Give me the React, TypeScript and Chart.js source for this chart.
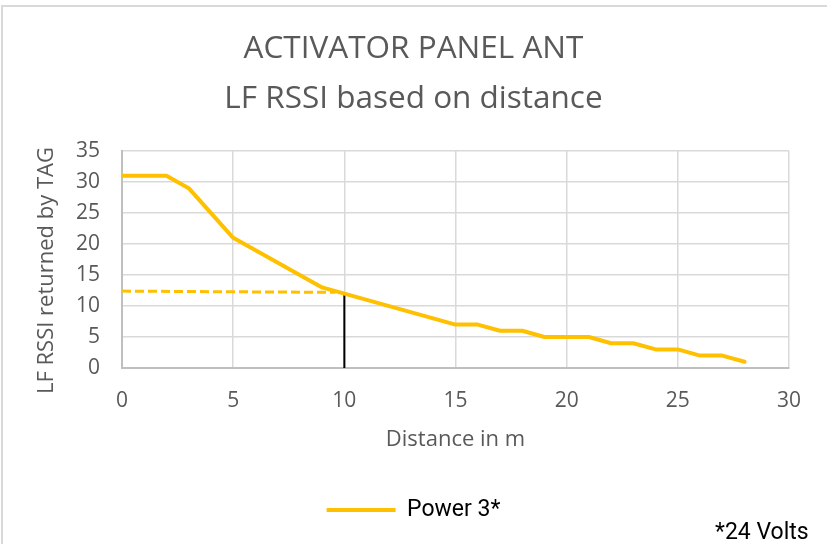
import React, { useEffect, useRef } from 'react';
import { Chart, registerables } from 'chart.js';

Chart.register(...registerables);

// ---- data ----
const distance = [0, 2, 3, 5, 9, 10, 15, 16, 17, 18, 19, 20, 21, 22, 23, 24, 25, 26, 27, 28];
const rssi = [31, 31, 29, 21, 13, 12, 7, 7, 6, 6, 5, 5, 5, 4, 4, 3, 3, 2, 2, 1];
const dashGuideX = [0, 9.6];
const dashGuideY = [12.4, 12.2];
const vertGuideX = [10, 10];
const vertGuideY = [0, 12.2];
const titleLines = ['ACTIVATOR PANEL ANT', 'LF RSSI based on distance'];
const seriesName = 'Power 3*';
const xTitle = 'Distance in m';
const yTitle = 'LF RSSI returned by TAG';
const footnote = '*24 Volts';

const toPts = (xs: number[], ys: number[]) => xs.map((x, i) => ({ x, y: ys[i] }));

const GRAY = '#595959';

// Draws the rotated y-axis title, slightly below the axis centre like the reference
const yTitlePlugin = {
  id: 'yTitleText',
  afterDraw(chart: any) {
    const { ctx, chartArea } = chart;
    ctx.save();
    ctx.translate(47, (chartArea.top + chartArea.bottom) / 2 + 11);
    ctx.rotate(-Math.PI / 2);
    ctx.font = '22px "Open Sans"';
    ctx.fillStyle = GRAY;
    ctx.textAlign = 'center';
    ctx.textBaseline = 'middle';
    ctx.fillText(yTitle, 0, 0);
    ctx.restore();
  },
};

export default function App() {
  const ref = useRef<HTMLCanvasElement>(null);

  useEffect(() => {
    document.body.style.margin = '0';
    const chart = new Chart(ref.current as HTMLCanvasElement, {
      type: 'line',
      data: {
        datasets: [
          {
            label: seriesName,
            data: toPts(distance, rssi),
            borderColor: '#FFC000',
            backgroundColor: '#FFC000',
            borderWidth: 4,
            pointRadius: 0,
            tension: 0,
            borderJoinStyle: 'round',
            borderCapStyle: 'round',
          },
          {
            label: 'guide-dash',
            data: toPts(dashGuideX, dashGuideY),
            borderColor: '#FFC000',
            borderWidth: 3,
            borderDash: [9, 4],
            pointRadius: 0,
          },
          {
            label: 'guide-vert',
            data: toPts(vertGuideX, vertGuideY),
            borderColor: '#000000',
            borderWidth: 2,
            pointRadius: 0,
          },
        ],
      },
      options: {
        animation: false,
        responsive: true,
        maintainAspectRatio: false,
        font: { family: 'Open Sans' },
        layout: { padding: { left: 0, right: 0, top: 0, bottom: 12.5 } },
        plugins: {
          title: {
            display: true,
            text: titleLines,
            color: GRAY,
            font: { family: 'Open Sans', size: 31.5, weight: 'normal', lineHeight: 50 / 31.5 },
            padding: { top: 24, bottom: 27 },
          },
          legend: {
            position: 'bottom',
            labels: {
              filter: (item: any) => item.datasetIndex === 0,
              usePointStyle: true,
              pointStyle: 'line',
              pointStyleWidth: 69,
              color: '#000000',
              font: { family: 'Roboto', size: 23 },
              padding: 10,
            },
          },
          tooltip: { enabled: false },
        },
        scales: {
          x: {
            type: 'linear',
            min: 0,
            max: 30,
            ticks: { stepSize: 5, padding: 20, color: GRAY, font: { family: 'Open Sans', size: 21 } },
            grid: { color: '#d9d9d9', lineWidth: 1.5, drawTicks: false },
            border: { color: '#bfbfbf', width: 2 },
            title: {
              display: true,
              text: xTitle,
              color: GRAY,
              font: { family: 'Open Sans', size: 22 },
              padding: { top: 0, bottom: 35.3 },
            },
            afterFit: (s: any) => {
              s.height = 120.5;
            },
          },
          y: {
            type: 'linear',
            min: 0,
            max: 35,
            ticks: { stepSize: 5, padding: 22, color: GRAY, font: { family: 'Open Sans', size: 21 } },
            grid: { color: '#d9d9d9', lineWidth: 1.5, drawTicks: false },
            border: { color: '#bfbfbf', width: 2 },
            title: { display: false },
            afterFit: (s: any) => {
              s.width = 122;
            },
          },
          yRight: {
            type: 'linear',
            position: 'right',
            display: true,
            grid: { display: false, drawTicks: false },
            border: { display: false },
            ticks: { display: false },
            afterFit: (s: any) => {
              s.width = 38;
            },
          },
        },
      } as any,
      plugins: [yTitlePlugin],
    });
    return () => chart.destroy();
  }, []);

  return (
    <div
      style={{
        position: 'fixed',
        left: 0,
        top: 0,
        width: 827,
        height: 544,
        overflow: 'hidden',
        background: '#ffffff',
      }}
    >
      <div
        style={{
          position: 'absolute',
          left: 1,
          top: 5,
          width: 900,
          height: 700,
          borderTop: '2px solid #d9d9d9',
          borderLeft: '2px solid #d9d9d9',
        }}
      />
      <div style={{ position: 'absolute', left: 0, top: 0, width: 827, height: 544 }}>
        <canvas ref={ref} />
      </div>
      <div
        style={{
          position: 'absolute',
          left: 715,
          top: 518,
          fontFamily: 'Roboto',
          fontSize: 23,
          lineHeight: '27px',
          color: '#000000',
          whiteSpace: 'nowrap',
        }}
      >
        {footnote}
      </div>
    </div>
  );
}
